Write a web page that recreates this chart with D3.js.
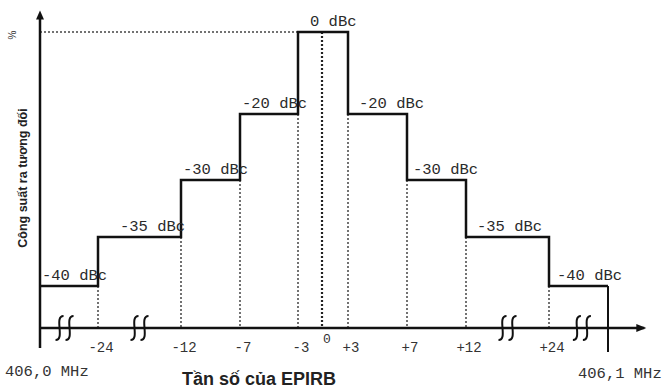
<!DOCTYPE html>
<html lang="vi">
<head>
<meta charset="UTF-8">
<title>Phổ phát xạ EPIRB</title>
<style>
  body { margin: 0; background: #fff; }
  svg { display: block; }
</style>
</head>
<body>
<div id="chart"></div>
<script src="https://d3js.org/d3.v7.min.js"></script>
<script>
// offsets from carrier in kHz; the two ends stand for 406,0 and 406,1 MHz
var edges = [-50, -24, -12, -7, -3, 3, 7, 12, 24, 50];
// relative level of each step between two edges (dBc)
var levels = [-40, -35, -30, -20, 0, -20, -30, -35, -40];
var levelLabels = ["-40 dBc", "-35 dBc", "-30 dBc", "-20 dBc", "0 dBc",
                   "-20 dBc", "-30 dBc", "-35 dBc", "-40 dBc"];
var tickValues = [-24, -12, -7, -3, 3, 7, 12, 24];
var tickLabels = ["-24", "-12", "-7", "-3", "+3", "+7", "+12", "+24"];
var breakMarks = [-39, -18, 18, 38.5];
var edgeLabels = ["406,0 MHz", "406,1 MHz"];
var xTitle = "Tần số của EPIRB";
var yTitle = "Công suất ra tương đối";

// label nudges along the step (px) - the original is hand drawn
var labelDx = [2, 22, 2, 2, 12, 11, 6, 11, 8];

var W = 664, H = 388;
var svg = d3.select("#chart").append("svg")
    .attr("width", W)
    .attr("height", H);
svg.append("rect").attr("width", W).attr("height", H).attr("fill", "#fff");

// schematic (broken) frequency axis -> piecewise linear scale
var x = d3.scaleLinear()
    .domain([-50, -24, -12, -7, -3, 0, 3, 7, 12, 24, 50])
    .range([40, 98, 181, 240, 298, 322, 348, 407, 466, 549, 608]);
// level axis is not to scale either
var y = d3.scaleLinear()
    .domain([-46, -40, -35, -30, -20, 0])
    .range([328, 286, 237, 180, 114, 32]);

var base = y(-46);
var mono = "'Liberation Mono', 'Courier New', monospace";
var sans = "'Liberation Sans', Arial, sans-serif";
var ink = "#111";

// dotted guides
var guides = svg.append("g")
    .attr("stroke", "#444")
    .attr("stroke-width", 1.5)
    .attr("stroke-dasharray", "2,2");

guides.append("line")
    .attr("x1", x(-50)).attr("x2", x(-3))
    .attr("y1", y(0)).attr("y2", y(0));

tickValues.forEach(function (t) {
    var i = edges.indexOf(t);
    var low = Math.min(levels[i - 1], levels[i]);
    guides.append("line")
        .attr("x1", x(t)).attr("x2", x(t))
        .attr("y1", y(low)).attr("y2", base);
});

guides.append("line")
    .attr("x1", x(0)).attr("x2", x(0))
    .attr("y1", y(0)).attr("y2", base)
    .attr("stroke", "#222")
    .attr("stroke-width", 2.2);

// axes
svg.append("line")
    .attr("x1", x(-50)).attr("x2", x(66))
    .attr("y1", base).attr("y2", base)
    .attr("stroke", ink).attr("stroke-width", 2.5);
svg.append("line")
    .attr("x1", x(-50)).attr("x2", x(-50))
    .attr("y1", y(5) + 4).attr("y2", base + 20)
    .attr("stroke", ink).attr("stroke-width", 2.5);

// arrow heads
var xe = x(66), ye = y(5);
svg.append("path")
    .attr("d", "M" + (xe + 2) + "," + base + "L" + (xe - 8) + "," + (base - 4) + "L" + (xe - 8) + "," + (base + 4) + "Z")
    .attr("fill", ink);
svg.append("path")
    .attr("d", "M" + x(-50) + "," + (ye - 1) + "L" + (x(-50) - 4) + "," + (ye + 8) + "L" + (x(-50) + 4) + "," + (ye + 8) + "Z")
    .attr("fill", ink);

// the step mask
var pts = edges.map(function (e, i) {
    return [e, i < levels.length ? levels[i] : levels[levels.length - 1]];
});
var stepLine = d3.line()
    .x(function (d) { return x(d[0]); })
    .y(function (d) { return y(d[1]); })
    .curve(d3.curveStepAfter);

svg.append("path")
    .datum(pts)
    .attr("d", stepLine)
    .attr("fill", "none")
    .attr("stroke", ink)
    .attr("stroke-width", 2.5);

svg.append("line")
    .attr("x1", x(50)).attr("x2", x(50))
    .attr("y1", y(-40)).attr("y2", base + 24)
    .attr("stroke", ink).attr("stroke-width", 2);

// axis breaks
breakMarks.forEach(function (b) {
    var cx = x(b);
    [-5, 5].forEach(function (o) {
        var ox = cx + o;
        svg.append("path")
            .attr("d", "M" + (ox + 4) + "," + (base - 12) +
                "C" + (ox - 6) + "," + (base - 12) + " " + (ox + 6) + "," + (base + 12) +
                " " + (ox - 4) + "," + (base + 12))
            .attr("fill", "none")
            .attr("stroke", ink)
            .attr("stroke-width", 2);
    });
});

// level labels
svg.append("g").selectAll("text")
    .data(levels)
    .enter()
    .append("text")
    .attr("x", function (d, i) { return x(edges[i]) + labelDx[i]; })
    .attr("y", function (d) { return y(d) - 6; })
    .attr("font-family", mono)
    .attr("font-size", 15.5)
    .attr("fill", "#2a2a2a")
    .text(function (d, i) { return levelLabels[i]; });

// tick labels
svg.append("g").selectAll("text")
    .data(tickValues)
    .enter()
    .append("text")
    .attr("x", function (d) { return x(d) + 3; })
    .attr("y", base + 24)
    .attr("text-anchor", "middle")
    .attr("font-family", mono)
    .attr("font-size", 14)
    .attr("fill", "#333")
    .text(function (d, i) { return tickLabels[i]; });

svg.append("text")
    .attr("x", x(0) + 1)
    .attr("y", base + 15)
    .attr("font-family", mono)
    .attr("font-size", 13)
    .attr("fill", "#333")
    .text("0");

// band edges
svg.append("text")
    .attr("x", 5).attr("y", 376)
    .attr("font-family", mono).attr("font-size", 15.5).attr("fill", "#333")
    .text(edgeLabels[0]);
svg.append("text")
    .attr("x", 578).attr("y", 378)
    .attr("font-family", mono).attr("font-size", 15.5).attr("fill", "#333")
    .text(edgeLabels[1]);

// titles
svg.append("text")
    .attr("x", 259).attr("y", 385)
    .attr("text-anchor", "middle")
    .attr("font-family", sans)
    .attr("font-size", 18)
    .attr("font-weight", "bold")
    .attr("fill", "#222")
    .text(xTitle);

svg.append("text")
    .attr("transform", "translate(27,178) rotate(-90)")
    .attr("text-anchor", "middle")
    .attr("font-family", sans)
    .attr("font-size", 12.5)
    .attr("font-weight", "bold")
    .attr("fill", "#222")
    .text(yTitle);

svg.append("text")
    .attr("transform", "translate(16,35) rotate(-90)")
    .attr("text-anchor", "middle")
    .attr("font-family", sans)
    .attr("font-size", 10)
    .attr("fill", "#333")
    .text("%");
</script>
</body>
</html>
